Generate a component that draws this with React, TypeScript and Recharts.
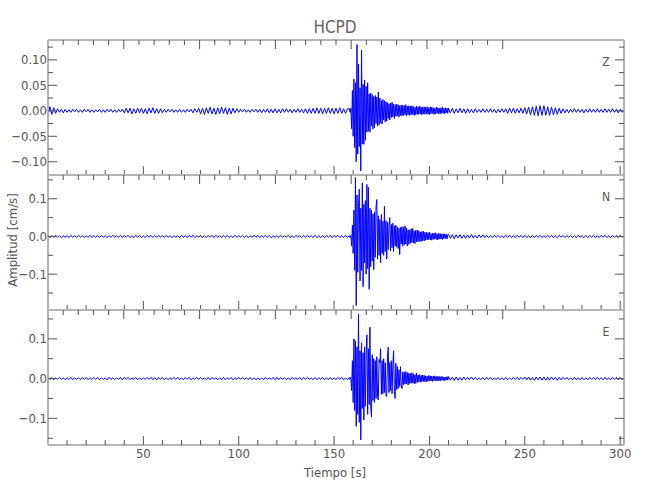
import { LineChart, Line, XAxis, YAxis } from 'recharts';

// amplitudes in thousandths of cm/s
// segment 1: 0-157 s every 1 s, segment 2: 158-209.6 s every 0.4 s, segment 3: 210-302 s every 1 s
const tramos = [
  { inicio: 0, paso: 1 },
  { inicio: 158, paso: 0.4 },
  { inicio: 210, paso: 1 },
];

const zPre = [
  -9, 8, -7, 6, -5, 4, -3, 3, -4, 3,
  -3, 2, -3, 3, -2, 3, -3, 2, -3, 3,
  -2, 3, -3, 2, -3, 2, -2, 3, -3, 2,
  -3, 3, -2, 3, -3, 2, -3, 3, -2, 3,
  -4, 5, -4, 5, -6, 4, -5, 5, -4, 5,
  -5, 4, -6, 5, -4, 6, -5, 4, -5, 4,
  -4, 3, -3, 3, -2, 3, -3, 2, -3, 3,
  -3, 2, -3, 3, -2, 3, -4, 4, -3, 5,
  -6, 5, -7, 6, -5, 7, -6, 5, -7, 6,
  -6, 7, -5, 6, -7, 5, -6, 5, -4, 4,
  -3, 3, -2, 3, -3, 2, -3, 3, -2, 3,
  -3, 3, -4, 3, -3, 4, -4, 3, -4, 4,
  -4, 3, -4, 4, -3, 4, -3, 3, -4, 3,
  -3, 4, -3, 3, -4, 4, -5, 4, -5, 5,
  -5, 6, -5, 5, -6, 5, -5, 6, -5, 5,
  -6, 5, -5, 6, -5, 4, -5, 4,
];
const zSismo = [
  4, -3, 5, -35, 40, -50, 62, -72, 55, -100,
  130, -85, 92, -70, 45, -118, 119, -65, 52, -66,
  60, -58, 48, -42, 55, -40, 33, -42, 35, -30,
  32, -36, 28, -33, 30, -25, 27, -30, 37, -28,
  25, -24, 20, -26, 22, -18, 20, -22, 18, -20,
  16, -15, 14, -18, 15, -13, 17, -12, 13, -15,
  12, -11, 13, -10, 12, -12, 10, -9, 11, -10,
  11, -9, 10, -8, 12, -10, 9, -8, 10, -9,
  9, -8, 10, -7, 8, -9, 7, -8, 9, -7,
  8, -7, 9, -6, 8, -8, 7, -6, 8, -7,
  7, -6, 8, -7, 6, -7, 8, -6, 7, -5,
  6, -7, 5, -6, 7, -5, 6, -6, 5, -6,
  6, -5, 7, -5, 5, -6, 6, -4, 5, -5,
];
const zPost = [
  5, -4, 5, -5, 4, -4, 5, -4, 4, -5,
  4, -4, 3, -4, 4, -3, 3, -3, 4, -3,
  3, -3, 4, -3, 3, -4, 3, -3, 4, -3,
  4, -5, 5, -4, 5, -5, 4, -4, 5, -5,
  6, -6, 7, -8, 8, -9, 9, -10, 10, -9,
  10, -9, 8, -9, 7, -8, 6, -7, 5, -5,
  4, -4, 3, -4, 3, -3, 4, -3, 3, -3,
  3, -4, 3, -3, 4, -3, 3, -3, 4, -3,
  3, -3, 4, -3, 3, -3, 4, -3, 3, -4,
  3, -3, 3,
];

const nPre = [
  3, -3, 2, -2, 3, -2, 2, -3, 2, -2,
  2, -3, 3, -2, 2, -2, 3, -2, 2, -3,
  2, -2, 3, -3, 2, -2, 2, -3, 3, -2,
  2, -3, 2, -2, 3, -2, 2, -2, 3, -3,
  3, -2, 3, -3, 2, -3, 3, -2, 3, -3,
  2, -3, 3, -2, 3, -3, 2, -2, 3, -2,
  2, -2, 3, -2, 2, -3, 2, -2, 2, -3,
  3, -2, 2, -3, 3, -2, 3, -3, 2, -2,
  3, -3, 2, -3, 3, -2, 3, -3, 3, -2,
  2, -3, 3, -2, 3, -3, 2, -3, 3, -2,
  2, -2, 3, -2, 2, -3, 2, -2, 3, -2,
  3, -3, 2, -2, 3, -2, 2, -3, 2, -2,
  2, -3, 3, -2, 2, -2, 3, -3, 2, -3,
  3, -2, 2, -3, 3, -2, 3, -2, 2, -3,
  3, -3, 2, -3, 3, -3, 2, -2, 3, -3,
  3, -2, 3, -3, 2, -3, 3, -2,
];
const nSismo = [
  2, -3, 3, -25, 30, -45, 70, -90, 156, -183,
  110, -95, 80, 125, -118, 75, -90, 142, -133, 85,
  -70, 95, -100, 138, -85, 130, -140, 75, -80, 70,
  -65, 60, -88, 65, -55, 80, 98, -60, 55, -50,
  45, -70, 58, -45, 40, -50, 80, -40, 42, -60,
  38, -35, 30, 50, -38, 32, -30, 35, -40, 28,
  -25, 30, -28, 25, -32, 22, -48, 24, -20, 26,
  -26, 24, -22, 28, -20, 22, -25, 18, -21, 17,
  -18, 20, -16, 22, -17, 15, -19, 16, -14, 17,
  -14, 15, -13, 12, -14, 13, -11, 14, -12, 11,
  -10, 11, -9, 10, -8, 12, -9, 8, -10, 9,
  -8, 9, -7, 10, -8, 7, -9, 8, -7, 8,
  -7, 6, -8, 7, -6, 7, -5, 6, -7, 5,
];
const nPost = [
  6, -5, 5, -6, 5, -4, 5, -5, 4, -5,
  4, -4, 5, -4, 3, -4, 4, -3, 4, -3,
  3, -3, 2, -3, 3, -2, 3, -3, 2, -3,
  3, -2, 3, -3, 2, -3, 3, -2, 3, -3,
  3, -3, 2, -3, 3, -3, 3, -2, 3, -3,
  2, -3, 3, -2, 3, -3, 2, -3, 3, -2,
  3, -3, 2, -2, 3, -3, 2, -3, 3, -2,
  2, -3, 3, -3, 2, -2, 3, -3, 2, -3,
  3, -2, 3, -3, 2, -3, 3, -2, 2, -3,
  3, -2, 3,
];

const ePre = [
  3, -2, 2, -3, 2, -2, 3, -2, 2, -3,
  2, -2, 3, -3, 2, -2, 2, -3, 3, -2,
  3, -3, 2, -2, 3, -2, 3, -3, 2, -2,
  2, -3, 3, -2, 2, -3, 2, -2, 3, -3,
  3, -2, 3, -3, 2, -2, 3, -3, 2, -3,
  2, -2, 3, -2, 3, -3, 2, -3, 3, -2,
  3, -3, 2, -3, 2, -2, 3, -2, 3, -3,
  2, -3, 3, -2, 3, -3, 2, -2, 3, -2,
  3, -2, 2, -3, 3, -3, 3, -2, 2, -3,
  2, -3, 3, -3, 2, -2, 3, -3, 2, -2,
  3, -2, 3, -2, 2, -3, 3, -3, 2, -3,
  2, -3, 2, -3, 3, -2, 2, -2, 3, -3,
  3, -3, 3, -2, 2, -3, 2, -3, 3, -2,
  2, -2, 3, -3, 3, -2, 3, -2, 2, -3,
  3, -3, 2, -2, 3, -3, 2, -3, 3, -3,
  2, -3, 3, -2, 3, -3, 2, -3,
];
const eSismo = [
  3, -2, 3, -30, 45, -60, 100, -80, 95, -120,
  80, -90, 162, -110, 70, -154, 90, -75, 65, -104,
  80, -70, 60, 110, -90, 75, -65, 129, -70, -96,
  60, -55, 50, -60, 45, -50, 55, -45, -54, 48,
  40, 75, -40, 45, -38, 50, -35, 40, -42, -45,
  55, 79, -35, 40, -30, 45, -38, 35, 70, -32,
  -50, 38, -28, 30, -25, 22, -20, 30, -18, -25,
  17, -15, 16, -14, 18, -13, 15, -16, 14, -12,
  13, -12, 15, -11, 12, -13, 10, -12, 14, -10,
  9, -8, 10, -9, 8, -8, 9, -7, 8, -8,
  7, -8, 6, -7, 8, -6, 7, -6, 6, -7,
  6, -5, 7, -6, 5, -6, 6, -5, 5, -6,
  5, -4, 5, -5, 4, -5, 4, -4, 5, -4,
];
const ePost = [
  5, -4, 4, -5, 4, -4, 3, -4, 4, -3,
  3, -3, 4, -3, 3, -3, 2, -3, 3, -3,
  3, -2, 3, -3, 2, -3, 3, -3, 2, -3,
  3, -3, 2, -3, 3, -2, 3, -3, 3, -2,
  4, -3, 4, -4, 3, -4, 4, -3, 4, -4,
  4, -4, 3, -4, 4, -3, 3, -4, 3, -3,
  3, -2, 3, -3, 2, -3, 3, -3, 2, -3,
  3, -3, 2, -3, 3, -2, 3, -3, 3, -2,
  2, -3, 3, -3, 2, -3, 3, -2, 3, -3,
  3, -3, 2,
];

const ticksTiempo = [10, 20, 30, 40, 50, 60, 70, 80, 90, 100, 110, 120, 130, 140, 150, 160, 170, 180, 190, 200, 210, 220, 230, 240, 250, 260, 270, 280, 290, 300];
const ticksZ = [-0.125, -0.1, -0.075, -0.05, -0.025, 0, 0.025, 0.05, 0.075, 0.1, 0.125];
const mayoresZ = [-0.1, -0.05, 0, 0.05, 0.1];
const ticksNE = [-0.15, -0.1, -0.05, 0, 0.05, 0.1, 0.15];
const mayoresNE = [-0.1, 0, 0.1];

const fuente = "'Liberation Sans Narrow', 'DejaVu Sans Condensed', 'Liberation Sans', sans-serif";
const eje = { stroke: '#b4b4b4', strokeWidth: 2 };
const colorTick = '#555';

const armar = (pre: number[], sismo: number[], post: number[]) =>
  [pre, sismo, post].flatMap((arr, k) =>
    arr.map((v, i) => ({ t: tramos[k].inicio + i * tramos[k].paso, v: v / 1000 })));

const datosZ = armar(zPre, zSismo, zPost);
const datosN = armar(nPre, nSismo, nPost);
const datosE = armar(ePre, eSismo, ePost);

const TickX = ({ x, y, payload, arriba, etiqueta }: any) => {
  const mayor = payload.value % 50 === 0;
  const largo = mayor ? 9 : 5;
  return (
    <g>
      <line x1={x} x2={x} y1={y} y2={arriba ? y + largo : y - largo} stroke={colorTick} />
      {etiqueta && mayor && (
        <text x={x} y={y + 13} textAnchor="middle" fontSize={13} fill="#555" fontFamily={fuente}>
          {payload.value}
        </text>
      )}
    </g>
  );
};

const TickY = ({ x, y, payload, derecha, mayores, decimales }: any) => {
  const mayor = mayores.some((m: number) => Math.abs(m - payload.value) < 1e-9);
  const largo = mayor ? 9 : 5;
  const texto = payload.value.toFixed(decimales).replace('-', '\u2212');
  return (
    <g>
      <line x1={x} x2={derecha ? x - largo : x + largo} y1={y} y2={y} stroke={colorTick} />
      {!derecha && mayor && (
        <text x={x - 1} y={y + 4.5} textAnchor="end" fontSize={13} fill="#555" fontFamily={fuente}>
          {texto}
        </text>
      )}
    </g>
  );
};

function Panel({ datos, dominio, ticks, mayores, decimales, top, ultimo }: any) {
  const abajo = ultimo ? 30 : 1;
  return (
    <div style={{ position: 'absolute', left: 0, top: top - 1 }}>
      <LineChart width={650} height={1 + 135 + abajo} data={datos} margin={{ top: 0, right: 0, bottom: 0, left: 0 }}>
        <XAxis
          dataKey="t"
          type="number"
          domain={[0, 302]}
          allowDataOverflow
          ticks={ticksTiempo}
          interval={0}
          height={abajo}
          tickSize={0}
          tickMargin={0}
          tickLine={false}
          axisLine={eje}
          tick={(p: any) => <TickX {...p} etiqueta={ultimo} />}
        />
        <XAxis
          xAxisId="arriba"
          orientation="top"
          type="number"
          domain={[0, 302]}
          allowDataOverflow
          ticks={ticksTiempo}
          interval={0}
          height={1}
          tickSize={0}
          tickMargin={0}
          tickLine={false}
          axisLine={eje}
          tick={(p: any) => <TickX {...p} arriba />}
        />
        <YAxis
          type="number"
          domain={dominio}
          allowDataOverflow
          ticks={ticks}
          interval={0}
          width={48}
          tickSize={0}
          tickMargin={0}
          tickLine={false}
          axisLine={eje}
          tick={(p: any) => <TickY {...p} mayores={mayores} decimales={decimales} />}
        />
        <YAxis
          yAxisId="der"
          orientation="right"
          type="number"
          domain={dominio}
          allowDataOverflow
          ticks={ticks}
          interval={0}
          width={26}
          tickSize={0}
          tickMargin={0}
          tickLine={false}
          axisLine={eje}
          tick={(p: any) => <TickY {...p} derecha mayores={mayores} decimales={decimales} />}
        />
        <Line dataKey="v" type="linear" stroke="#0000ff" strokeWidth={1} dot={false} isAnimationActive={false} />
      </LineChart>
    </div>
  );
}

export default function App() {
  return (
    <div style={{ position: 'absolute', left: 0, top: 0, width: 650, height: 500, background: '#fff', fontFamily: fuente }}>
      <Panel datos={datosZ} dominio={[-0.126, 0.139]} ticks={ticksZ} mayores={mayoresZ} decimales={2} top={40} />
      <Panel datos={datosN} dominio={[-0.195, 0.163]} ticks={ticksNE} mayores={mayoresNE} decimales={1} top={175} />
      <Panel datos={datosE} dominio={[-0.167, 0.1725]} ticks={ticksNE} mayores={mayoresNE} decimales={1} top={310} ultimo />
      <svg width={650} height={500} style={{ position: 'absolute', left: 0, top: 0, pointerEvents: 'none' }} fontFamily={fuente}>
        <text x={335} y={33} textAnchor="middle" fontSize={17} fill="#666">HCPD</text>
        <text x={606} y={66} textAnchor="middle" fontSize={12} fill="#555">Z</text>
        <text x={606} y={201} textAnchor="middle" fontSize={12} fill="#555">N</text>
        <text x={606} y={336} textAnchor="middle" fontSize={12} fill="#555">E</text>
        <text x={335} y={477} textAnchor="middle" fontSize={13} fill="#555">Tiempo [s]</text>
        <text x={17} y={240} textAnchor="middle" fontSize={13} fill="#555" transform="rotate(-90 17 240)">Amplitud [cm/s]</text>
      </svg>
    </div>
  );
}
